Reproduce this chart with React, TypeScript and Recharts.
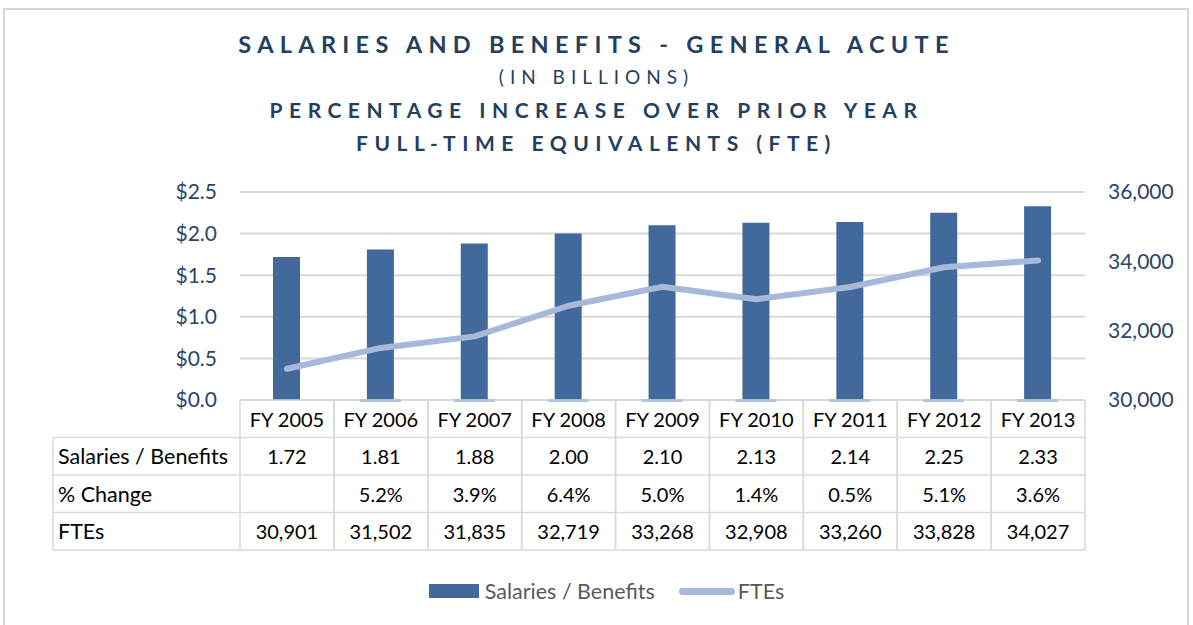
import { ComposedChart, Bar, Line, XAxis, YAxis, CartesianGrid } from 'recharts';

const years = ['FY 2005', 'FY 2006', 'FY 2007', 'FY 2008', 'FY 2009', 'FY 2010', 'FY 2011', 'FY 2012', 'FY 2013'];
const salaries = [1.72, 1.81, 1.88, 2.0, 2.1, 2.13, 2.14, 2.25, 2.33];
const pctChange = [null, 5.2, 3.9, 6.4, 5.0, 1.4, 0.5, 5.1, 3.6];
const ftes = [30901, 31502, 31835, 32719, 33268, 32908, 33260, 33828, 34027];

const leftTicks = [0, 0.5, 1, 1.5, 2, 2.5];
const rightTicks = [30000, 32000, 34000, 36000];

const data = years.map((year, i) => ({
  year,
  salaries: salaries[i],
  pct: pctChange[i],
  ftes: ftes[i],
}));

// layout
const W = 1193;
const H = 625;
const PLOT_LEFT = 240;
const PLOT_RIGHT = 1085;
const PLOT_TOP = 192;
const PLOT_BOTTOM = 400;
const LEFT_AXIS_W = 60;
const RIGHT_AXIS_W = 80;
const XAXIS_H = 150;
const BAND = (PLOT_RIGHT - PLOT_LEFT) / years.length;
const ROW_H = 37.5;
const LABEL_LEFT = 53;

const navy = '#243f60';
const axisText = '#2c4468';
const barColor = '#41699c';
const pctColor = '#5b8bd0';
const lineColor = '#a8b8d8';
const gridColor = '#d9d9d9';
const font = 'Lato, "Noto Sans", sans-serif';

const rowLabels = ['Salaries / Benefits', '% Change', 'FTEs'];

function TableTick(props: any) {
  const { x, y, payload, index } = props;
  const half = BAND / 2;
  const i = index ?? years.indexOf(payload.value);
  const cells = [
    salaries[i].toFixed(2),
    pctChange[i] == null ? '' : `${(pctChange[i] as number).toFixed(1)}%`,
    ftes[i].toLocaleString('en-US'),
  ];
  const bottom = y + ROW_H * 4;
  return (
    <g>
      <line x1={x - half} x2={x + half} y1={y} y2={y} stroke={gridColor} strokeWidth={1.5} />
      <line x1={x - half} x2={x - half} y1={y} y2={bottom} stroke={gridColor} strokeWidth={1.5} />
      <line x1={x + half} x2={x + half} y1={y} y2={bottom} stroke={gridColor} strokeWidth={1.5} />
      {[1, 2, 3, 4].map((r) => (
        <line key={r} x1={x - half} x2={x + half} y1={y + ROW_H * r} y2={y + ROW_H * r} stroke={gridColor} strokeWidth={1.5} />
      ))}
      <text x={x} y={y + ROW_H / 2} textAnchor="middle" dominantBaseline="central" fontSize={20} fill="#000" fontFamily={font}>
        {payload.value}
      </text>
      {cells.map((c, r) => (
        <text key={r} x={x} y={y + ROW_H * (r + 1.5)} textAnchor="middle" dominantBaseline="central" fontSize={20} fill="#000" fontFamily={font}>
          {c}
        </text>
      ))}
      {i === 0 && (
        <g>
          <line x1={LABEL_LEFT} x2={LABEL_LEFT} y1={y + ROW_H} y2={bottom} stroke={gridColor} strokeWidth={1.5} />
          {[1, 2, 3, 4].map((r) => (
            <line key={r} x1={LABEL_LEFT} x2={x - half} y1={y + ROW_H * r} y2={y + ROW_H * r} stroke={gridColor} strokeWidth={1.5} />
          ))}
          {rowLabels.map((l, r) => (
            <text key={l} x={LABEL_LEFT + 5} y={y + ROW_H * (r + 1.5)} dominantBaseline="central" fontSize={21.5} fill="#000" fontFamily={font}>
              {l}
            </text>
          ))}
        </g>
      )}
    </g>
  );
}

// % change series shows only as a thin sliver at the baseline
function PctShape(props: any) {
  const { x, y, width, height, value } = props;
  if (value == null) return null;
  const base = y + height;
  return <rect x={x} y={base - 1} width={width} height={2.5} fill={pctColor} />;
}

const titleLine = (text: string, top: number, size: number, weight: number, spacing: number) => (
  <div
    style={{
      position: 'absolute',
      top,
      left: 0,
      width: W,
      textAlign: 'center',
      fontFamily: font,
      fontSize: size,
      fontWeight: weight,
      letterSpacing: spacing,
      color: navy,
      lineHeight: 1,
    }}
  >
    {text}
  </div>
);

export default function App() {
  return (
    <div style={{ position: 'absolute', top: 0, left: 0, width: W, height: H, background: '#fff', overflow: 'hidden' }}>
      <div style={{ position: 'absolute', left: 3, top: 8, width: 1182, height: 700, border: '2px solid #d6d6d6' }} />
      {titleLine('SALARIES AND BENEFITS - GENERAL ACUTE', 33, 23.5, 700, 6.3)}
      {titleLine('(IN BILLIONS)', 67, 19, 400, 6)}
      {titleLine('PERCENTAGE INCREASE OVER PRIOR YEAR', 99, 21, 700, 6.5)}
      {titleLine('FULL-TIME EQUIVALENTS (FTE)', 132, 21, 700, 6.5)}
      <div style={{ position: 'absolute', top: 0, left: 0 }}>
        <ComposedChart
          width={W}
          height={H}
          data={data}
          margin={{
            top: PLOT_TOP,
            left: PLOT_LEFT - LEFT_AXIS_W,
            right: W - PLOT_RIGHT - RIGHT_AXIS_W,
            bottom: H - PLOT_BOTTOM - XAXIS_H,
          }}
        >
          <CartesianGrid vertical={false} stroke={gridColor} strokeWidth={2} yAxisId="left" />
          <XAxis
            dataKey="year"
            height={XAXIS_H}
            axisLine={false}
            tickLine={false}
            tickSize={0}
            tickMargin={0}
            interval={0}
            tick={(p: any) => <TableTick {...p} />}
          />
          <XAxis xAxisId="pct" dataKey="year" hide />
          <YAxis
            yAxisId="left"
            width={LEFT_AXIS_W}
            domain={[0, 2.5]}
            ticks={leftTicks}
            axisLine={false}
            tickLine={false}
            tickSize={0}
            tickMargin={23}
            tickFormatter={(v: number) => `$${v.toFixed(1)}`}
            tick={{ fill: axisText, fontSize: 21, fontFamily: font }}
          />
          <YAxis
            yAxisId="right"
            orientation="right"
            width={RIGHT_AXIS_W}
            domain={[30000, 36000]}
            ticks={rightTicks}
            axisLine={false}
            tickLine={false}
            tickSize={0}
            tickMargin={23}
            tickFormatter={(v: number) => v.toLocaleString('en-US')}
            tick={{ fill: axisText, fontSize: 21, fontFamily: font }}
          />
          <YAxis yAxisId="pct" domain={[0, 1000]} hide />
          <Bar
            xAxisId="pct"
            yAxisId="pct"
            dataKey="pct"
            barSize={41}
            shape={(p: any) => <PctShape {...p} />}
            isAnimationActive={false}
          />
          <Bar yAxisId="left" dataKey="salaries" fill={barColor} barSize={27} isAnimationActive={false} />
          <Line
            yAxisId="right"
            dataKey="ftes"
            type="linear"
            stroke={lineColor}
            strokeWidth={6}
            strokeLinecap="round"
            strokeLinejoin="round"
            dot={false}
            activeDot={false}
            isAnimationActive={false}
          />
        </ComposedChart>
      </div>
      <div
        style={{
          position: 'absolute',
          top: 578,
          left: 10,
          width: W,
          display: 'flex',
          justifyContent: 'center',
          alignItems: 'center',
          fontFamily: font,
          fontSize: 21.5,
          color: '#595959',
        }}
      >
        <span style={{ display: 'inline-block', width: 50, height: 14, background: barColor, marginRight: 6 }} />
        <span>Salaries / Benefits</span>
        <span style={{ display: 'inline-block', width: 56, height: 7, borderRadius: 4, background: lineColor, marginLeft: 24, marginRight: 3 }} />
        <span>FTEs</span>
      </div>
    </div>
  );
}
